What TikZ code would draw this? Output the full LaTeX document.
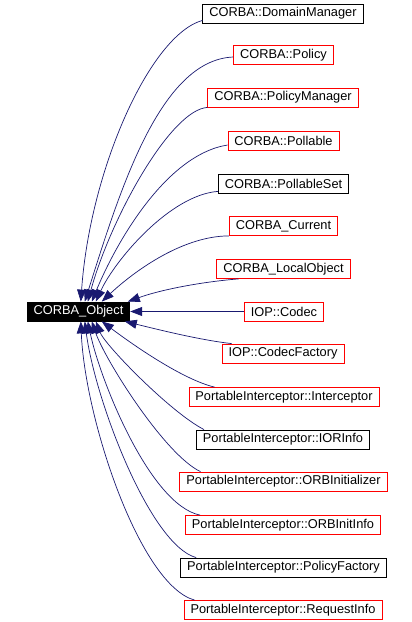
\documentclass[tikz,border=0pt]{standalone}
\usepackage{fontspec}
\setmainfont{Liberation Sans}
\usetikzlibrary{arrows.meta}
\definecolor{edgeblue}{HTML}{191970}
\tikzset{
  cls/.style={draw=#1, line width=0.8pt, fill=white, font=\fontsize{12.8}{14}\selectfont,
    inner xsep=6.5pt, inner ysep=0pt, minimum height=19pt, text=black},
  redbox/.style={cls=red},
  blackbox/.style={cls=black},
  rootbox/.style={cls=black, fill=black, text=white},
  inh/.style={draw=edgeblue, line width=0.7pt, -{Triangle[length=12pt,width=9pt]}, color=edgeblue},
}
\begin{document}
\begin{tikzpicture}[x=1pt,y=-1pt]
\useasboundingbox (0,0) rectangle (412,622);
\node[rootbox] (obj) at (78.5,311.5) {CORBA\_Object};
\node[blackbox] (dm) at (283,13.5) {CORBA::DomainManager};
\node[redbox] (pol) at (283.5,55) {CORBA::Policy};
\node[redbox] (pm) at (283,97.5) {CORBA::PolicyManager};
\node[redbox] (pl) at (283.5,141) {CORBA::Pollable};
\node[blackbox] (ps) at (283.5,183.5) {CORBA::PollableSet};
\node[redbox] (cur) at (283.5,226) {CORBA\_Current};
\node[redbox] (lo) at (283.5,269) {CORBA\_LocalObject};
\node[redbox] (cod) at (284,311.5) {IOP::Codec};
\node[redbox] (cf) at (283,353.5) {IOP::CodecFactory};
\node[redbox] (ic) at (284,397) {PortableInterceptor::Interceptor};
\node[blackbox] (ior) at (283,439.5) {PortableInterceptor::IORInfo};
\node[redbox] (oi) at (283.5,481.5) {PortableInterceptor::ORBInitializer};
\node[redbox] (oii) at (283,525) {PortableInterceptor::ORBInitInfo};
\node[blackbox] (pf) at (283.5,567.5) {PortableInterceptor::PolicyFactory};
\node[redbox] (ri) at (283,610) {PortableInterceptor::RequestInfo};

% edges above
\draw[inh] ([yshift=3pt]dm.south west) .. controls (150,35) and (90,170) .. ([xshift=54pt]obj.north west);
\draw[inh] ([yshift=-2pt]pol.west) .. controls (160,60) and (120,190) .. ([xshift=58pt]obj.north west);
\draw[inh] (pm.south west) .. controls (170,110) and (110,220) .. ([xshift=61pt]obj.north west);
\draw[inh] ([yshift=-4pt]pl.west) .. controls (165,155) and (115,245) .. ([xshift=65pt]obj.north west);
\draw[inh] ([yshift=2pt]ps.south west) .. controls (170,195) and (115,260) .. ([xshift=69pt]obj.north west);
\draw[inh] (cur.south west) .. controls (180,236) and (130,275) .. ([xshift=75pt]obj.north west);
\draw[inh] ([xshift=22pt]lo.south west) .. controls (200,282) and (160,290) .. ([xshift=101pt]obj.north west);
\draw[inh] (cod.west) -- (obj.east);
% edges below
\draw[inh] ([xshift=10pt]cf.north west) .. controls (200,340) and (160,330) .. ([xshift=98pt]obj.south west);
\draw[inh] ([xshift=26pt]ic.north west) .. controls (185,380) and (140,350) .. ([xshift=75pt]obj.south west);
\draw[inh] ([xshift=8pt]ior.north west) .. controls (170,412) and (105,345) .. ([xshift=69pt]obj.south west);
\draw[inh] ([xshift=21pt]oi.north west) .. controls (165,455) and (105,360) .. ([xshift=65pt]obj.south west);
\draw[inh] ([xshift=15pt]oii.north west) .. controls (150,505) and (100,380) .. ([xshift=61pt]obj.south west);
\draw[inh] ([xshift=16pt]pf.north west) .. controls (150,545) and (95,400) .. ([xshift=58pt]obj.south west);
\draw[inh] ([xshift=11pt]ri.north west) .. controls (140,585) and (85,420) .. ([xshift=54pt]obj.south west);
\end{tikzpicture}
\end{document}
